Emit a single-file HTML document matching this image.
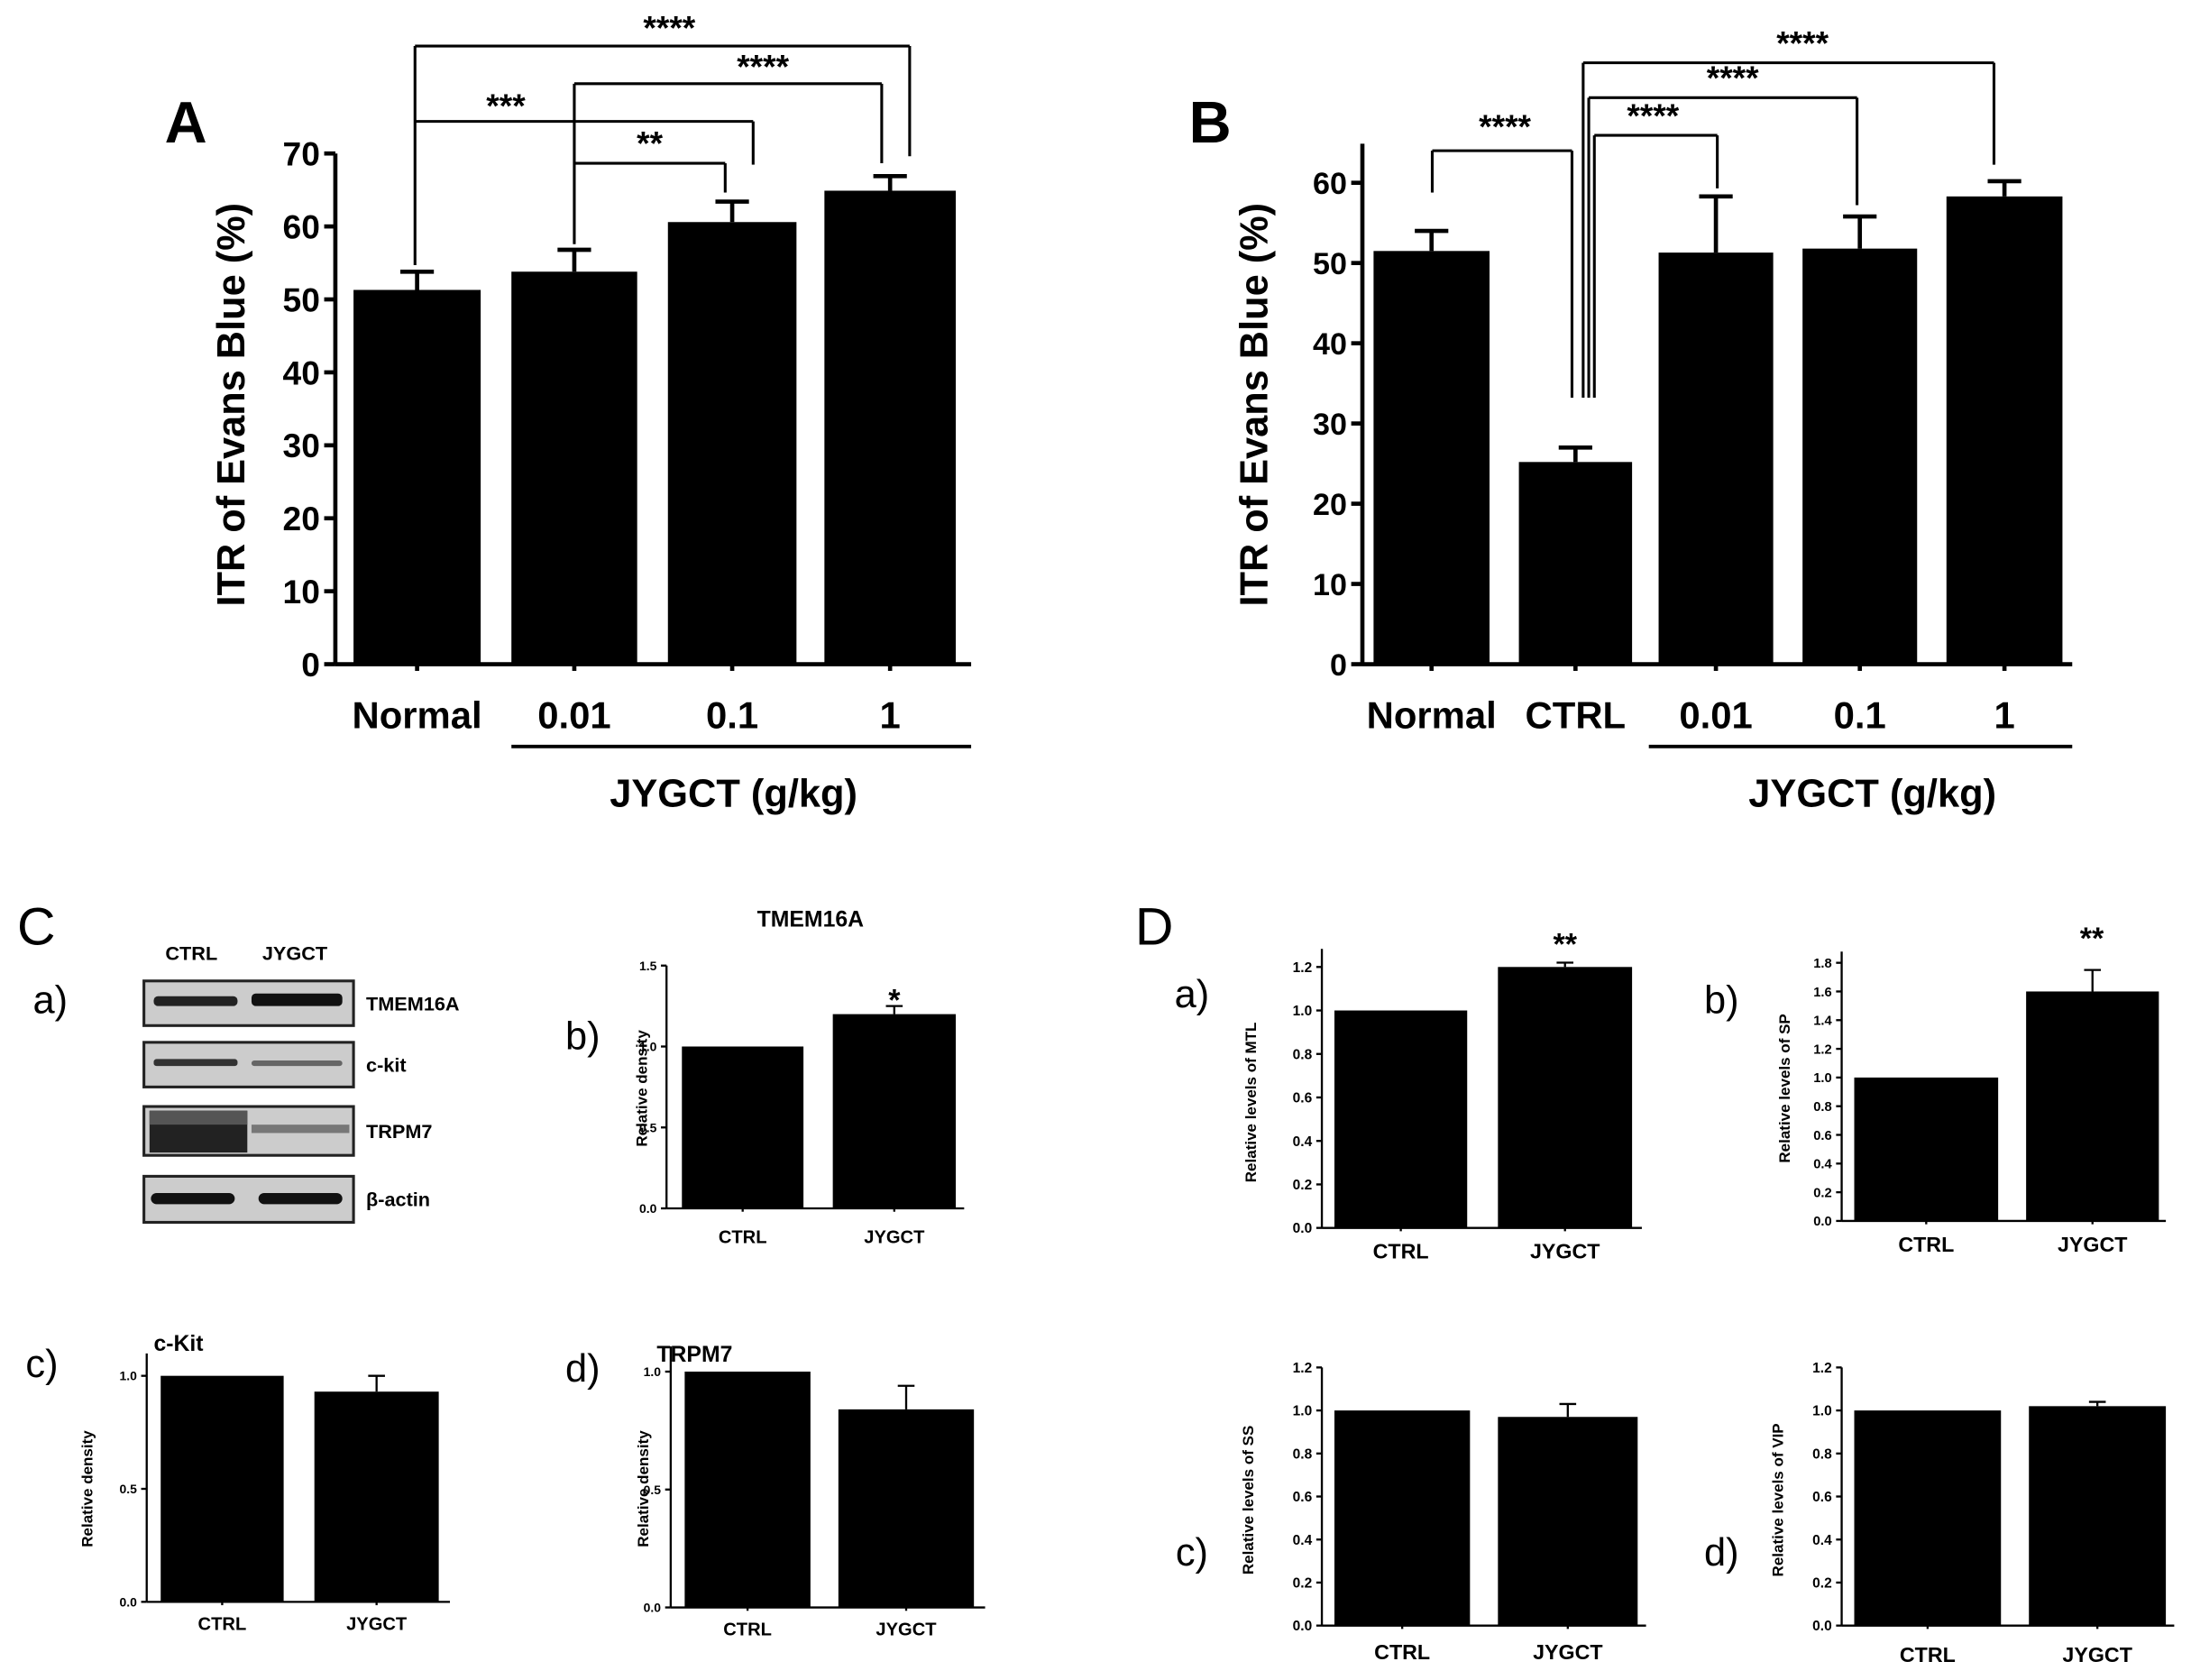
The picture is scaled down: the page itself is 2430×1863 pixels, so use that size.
<!DOCTYPE html>
<html><head><meta charset="utf-8"><style>
html,body{margin:0;padding:0;background:#fff;}
svg{display:block;font-family:"Liberation Sans",Arial,sans-serif;}
</style></head><body>
<svg id="s" width="2430" height="1863" viewBox="0 0 1568 1204" preserveAspectRatio="none" xmlns="http://www.w3.org/2000/svg">
<rect width="1568" height="1204" fill="#fff"/>
</svg>
<script>
const s=document.getElementById('s');let h='';
function L(x1,y1,x2,y2,w){h+=`<line x1="${x1}" y1="${y1}" x2="${x2}" y2="${y2}" stroke="#000" stroke-width="${w||2}"/>`;}
function T(x,y,t,sz,a,wt,rot){h+=`<text x="${x}" y="${y}" font-size="${sz}" text-anchor="${a||'middle'}" font-weight="${wt||'bold'}" ${rot?`transform="rotate(-90 ${x} ${y})"`:''}>${t}</text>`;}
function R(x,y,w,hh){h+=`<rect x="${x}" y="${y}" width="${w}" height="${hh}" fill="#000"/>`;}
function chart(o){
 const py=v=>o.y0-(v/o.vmax)*(o.y0-o.yt);
 L(o.ax,o.y0,o.ax,o.ytop||o.yt,o.lw);L(o.ax,o.y0,o.xe,o.y0,o.lw);
 for(let v=0;v<=o.vmax+1e-9;v+=o.step){const y=py(v);L(o.ax-o.tk,y,o.ax,y,o.lw);T(o.ax-o.tk-3,y+o.fs*0.36,o.fmt(v),o.fs,'end');}
 o.bars.forEach(b=>{const y=py(b.v);R(b.x1,y,b.x2-b.x1,o.y0-y);
  if(b.e){const ye=py(b.e),cx=(b.x1+b.x2)/2;L(cx,ye,cx,y,o.lw);L(cx-o.cw,ye,cx+o.cw,ye,o.lw);}
  if(b.lab)T(cx2(b),o.ly,b.lab,o.lfs);
  L(cx2(b),o.y0,cx2(b),o.y0+o.tk*0.6,o.lw);
 });
}
function cx2(b){return (b.x1+b.x2)/2;}
// Panel A
chart({ax:240,y0:476,yt:110,vmax:70,step:10,fmt:v=>v,fs:24,tk:8,lw:3,xe:695,cw:12,ly:522,lfs:27,
 bars:[{x1:253,x2:344,v:51.3,e:53.8,lab:'Normal'},{x1:366,x2:456,v:53.8,e:56.8,lab:'0.01'},{x1:478,x2:570,v:60.6,e:63.4,lab:'0.1'},{x1:590,x2:684,v:64.9,e:66.9,lab:'1'}]});
L(366,535,695,535,2.5);T(525,578,'JYGCT (g/kg)',28);
T(175,290,'ITR of Evans Blue (%)',28,'middle','bold',1);
T(133,102,'A',42);
L(297,33,651,33);L(297,33,297,190);L(651,33,651,112);
L(411,60,631,60);L(411,60,411,175);L(631,60,631,117);
L(297,87,539,87);L(539,87,539,118);
L(411,117,519,117);L(519,117,519,138);
T(479,28,'****',24);T(546,56,'****',24);T(362,84,'***',24);T(465,111,'**',24);
// Panel B
chart({ax:975,y0:476,yt:131,ytop:103,vmax:60,step:10,fmt:v=>v,fs:22,tk:8,lw:3,xe:1483,cw:12,ly:522,lfs:27,
 bars:[{x1:983,x2:1066,v:51.5,e:54,lab:'Normal'},{x1:1087,x2:1168,v:25.2,e:27,lab:'CTRL'},{x1:1187,x2:1269,v:51.3,e:58.3,lab:'0.01'},{x1:1290,x2:1372,v:51.8,e:55.8,lab:'0.1'},{x1:1393,x2:1476,v:58.3,e:60.2,lab:'1'}]});
L(1180,535,1483,535,2.5);T(1340,578,'JYGCT (g/kg)',28);
T(907,290,'ITR of Evans Blue (%)',28,'middle','bold',1);
T(866,102,'B',42);
L(1025,108,1025,138);L(1025,108,1125,108);L(1125,108,1125,285);
L(1133,45,1427,45);L(1133,45,1133,285);L(1427,45,1427,118);
L(1137,70,1329,70);L(1137,70,1137,285);L(1329,70,1329,147);
L(1141,97,1229,97);L(1141,97,1141,285);L(1229,97,1229,135);
T(1077,99,'****',24);T(1290,39,'****',24);T(1240,64,'****',24);T(1183,91,'****',24);
// Panel C
T(26,677,'C',38,'middle','normal');T(36,726,'a)',28,'middle','normal');
T(137,688,'CTRL',14);T(211,688,'JYGCT',14);
[[703,735,'TMEM16A'],[747,779,'c-kit'],[793,828,'TRPM7'],[843,876,'β-actin']].forEach(r=>{
 h+=`<rect x="103" y="${r[0]}" width="150" height="${r[1]-r[0]}" fill="#ccc" stroke="#222" stroke-width="2"/>`;
 T(262,(r[0]+r[1])/2+5,r[2],14,'start');});
h+=`<rect x="110" y="714" width="60" height="7" rx="3" fill="#222"/><rect x="180" y="712" width="65" height="9" rx="3" fill="#111"/>`;
h+=`<rect x="110" y="759" width="60" height="5" rx="2" fill="#333"/><rect x="180" y="760" width="65" height="4" rx="2" fill="#666"/>`;
h+=`<rect x="107" y="796" width="70" height="30" fill="#222"/><rect x="107" y="796" width="70" height="10" fill="#555"/><rect x="180" y="806" width="70" height="6" fill="#777"/>`;
h+=`<rect x="108" y="855" width="60" height="8" rx="4" fill="#111"/><rect x="185" y="855" width="60" height="8" rx="4" fill="#111"/>`;
// b
T(417,752,'b)',28,'middle','normal');T(580,664,'TMEM16A',16);
chart({ax:477,y0:866,yt:692,vmax:1.5,step:0.5,fmt:v=>v.toFixed(1),fs:9,tk:4,lw:1.5,xe:690,cw:6,ly:891,lfs:13,
 bars:[{x1:488,x2:575,v:1.0,lab:'CTRL'},{x1:596,x2:684,v:1.2,e:1.25,lab:'JYGCT'}]});
T(463,780,'Relative density',11,'middle','bold',1);T(640,724,'*',22);
// c
T(30,987,'c)',28,'middle','normal');T(110,968,'c-Kit',16,'start');
chart({ax:105,y0:1148,yt:986,ytop:970,vmax:1.0,step:0.5,fmt:v=>v.toFixed(1),fs:9,tk:4,lw:1.5,xe:322,cw:6,ly:1168,lfs:13,
 bars:[{x1:115,x2:203,v:1.0,lab:'CTRL'},{x1:225,x2:314,v:0.93,e:1.0,lab:'JYGCT'}]});
T(66,1067,'Relative density',11,'middle','bold',1);
// d
T(417,990,'d)',28,'middle','normal');T(470,976,'TRPM7',16,'start');
chart({ax:480,y0:1152,yt:983,ytop:965,vmax:1.0,step:0.5,fmt:v=>v.toFixed(1),fs:9,tk:4,lw:1.5,xe:705,cw:6,ly:1172,lfs:13,
 bars:[{x1:490,x2:580,v:1.0,lab:'CTRL'},{x1:600,x2:697,v:0.84,e:0.94,lab:'JYGCT'}]});
T(464,1067,'Relative density',11,'middle','bold',1);
// Panel D
T(826,677,'D',38,'middle','normal');
const f1=v=>v.toFixed(1);
T(853,722,'a)',28,'middle','normal');
chart({ax:946,y0:880,yt:693,ytop:680,vmax:1.2,step:0.2,fmt:f1,fs:10,tk:4,lw:1.5,xe:1175,cw:6,ly:902,lfs:15,
 bars:[{x1:955,x2:1050,v:1.0,lab:'CTRL'},{x1:1072,x2:1168,v:1.2,e:1.22,lab:'JYGCT'}]});
T(899,790,'Relative levels of MTL',11,'middle','bold',1);T(1120,684,'**',22);
T(1232,726,'b)',28,'middle','normal');
chart({ax:1318,y0:875,yt:690,ytop:682,vmax:1.8,step:0.2,fmt:f1,fs:9.5,tk:4,lw:1.5,xe:1550,cw:6,ly:897,lfs:15,
 bars:[{x1:1327,x2:1430,v:1.0,lab:'CTRL'},{x1:1450,x2:1545,v:1.6,e:1.75,lab:'JYGCT'}]});
T(1281,780,'Relative levels of SP',11,'middle','bold',1);T(1497,680,'**',22);
T(853,1122,'c)',28,'middle','normal');
chart({ax:946,y0:1165,yt:980,vmax:1.2,step:0.2,fmt:f1,fs:10,tk:4,lw:1.5,xe:1178,cw:6,ly:1189,lfs:15,
 bars:[{x1:955,x2:1052,v:1.0,lab:'CTRL'},{x1:1072,x2:1172,v:0.97,e:1.03,lab:'JYGCT'}]});
T(897,1075,'Relative levels of SS',11,'middle','bold',1);
T(1232,1122,'d)',28,'middle','normal');
chart({ax:1318,y0:1165,yt:980,vmax:1.2,step:0.2,fmt:f1,fs:10,tk:4,lw:1.5,xe:1556,cw:6,ly:1191,lfs:15,
 bars:[{x1:1327,x2:1432,v:1.0,lab:'CTRL'},{x1:1452,x2:1550,v:1.02,e:1.04,lab:'JYGCT'}]});
T(1276,1075,'Relative levels of VIP',11,'middle','bold',1);
s.innerHTML+=h;
</script>
</body></html>
